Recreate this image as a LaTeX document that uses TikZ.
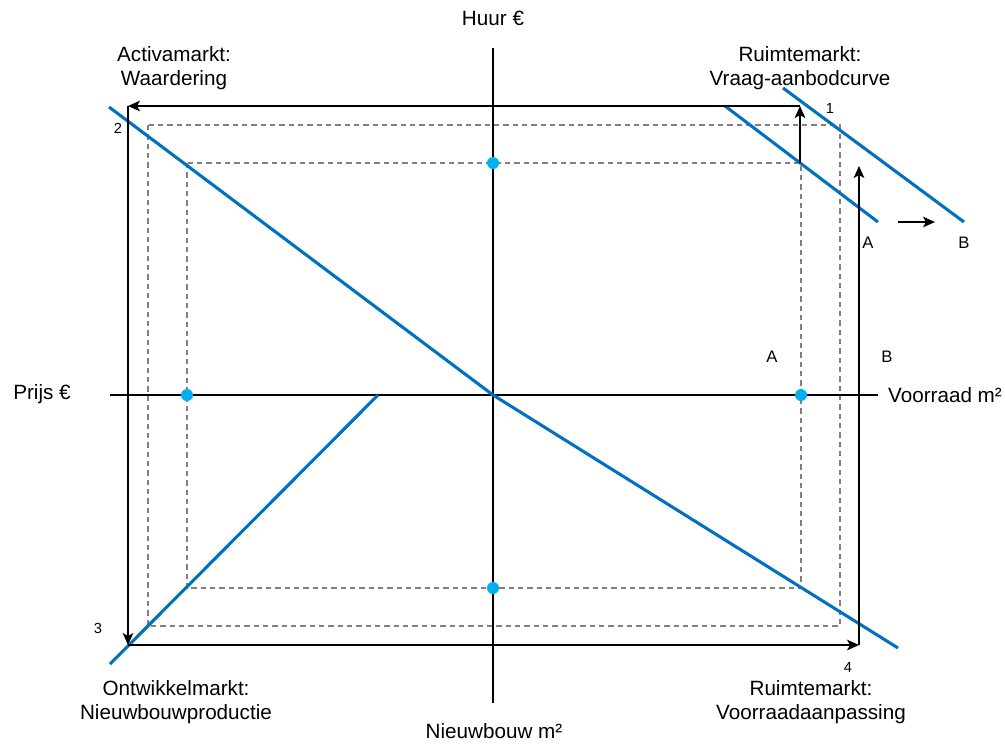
\documentclass[tikz,border=0pt]{standalone}
\usepackage{fontspec}
\setmainfont{Liberation Sans}
\usetikzlibrary{arrows.meta}
\definecolor{curveblue}{RGB}{0,112,192}
\definecolor{dotblue}{RGB}{0,176,240}
\definecolor{dashgray}{RGB}{128,128,128}
\tikzset{
  bluecurve/.style={draw=curveblue, line width=2.3pt},
  guide/.style={draw=dashgray, line width=1pt, dash pattern=on 4pt off 3pt},
  axisline/.style={draw=black, line width=1.1pt},
  flow/.style={-{Stealth[length=9pt,width=8pt,inset=2.2pt]}, line width=1.1pt},
  dot/.style={circle, fill=dotblue, inner sep=0pt, minimum size=9pt},
  lbl/.style={font=\fontsize{15.5}{18}\selectfont, align=center},
  tag/.style={font=\fontsize{12.5}{14}\selectfont},
  num/.style={font=\fontsize{11}{13}\selectfont},
}
\begin{document}
\begin{tikzpicture}[x=0.75pt, y=-0.75pt]
  \useasboundingbox (0,0) rectangle (1005,744);

  % guide rectangles
  \draw[guide] (148,125) rectangle (840,626);
  \draw[guide] (187,163) rectangle (801,588);

  % axes
  \draw[axisline] (110,395) -- (878,395);
  \draw[axisline] (493,48) -- (493,703);
  \node[lbl] (huur) at (493,18) {Huur €};
  \node[lbl] (nieuwbouw) at (494,731) {Nieuwbouw m²};
  \node[lbl] (prijs) at (42,394) {Prijs €};
  \node[lbl] (voorraad) at (945,395) {Voorraad m²};

  % curves
  \draw[bluecurve] (725,106) -- (878,222);
  \draw[bluecurve] (783,88) -- (964,222);
  \draw[bluecurve] (109,107) -- (493,395) -- (898,648);
  \draw[bluecurve] (110,664) -- (378,395);

  % cycle
  \coordinate (c1) at (800,106);
  \coordinate (c2) at (128,106);
  \coordinate (c3) at (128,645);
  \coordinate (c4) at (859,645);
  \coordinate (c4top) at (859,166);
  \coordinate (rentA) at (800,163);
  \coordinate (shiftL) at (898,222);
  \coordinate (shiftR) at (935,222);
  \draw[flow] (c1) -- (c2);
  \draw[flow] (c2) -- (c3);
  \draw[flow] (c3) -- (c4);
  \draw[flow] (c4) -- (c4top);
  \draw[flow] (rentA) -- (c1);
  \draw[flow] (shiftL) -- (shiftR);

  % equilibrium points
  \node[dot] (eqtop) at (493,163) {};
  \node[dot] (eqleft) at (187,395) {};
  \node[dot] (eqright) at (801,395) {};
  \node[dot] (eqbottom) at (493,588) {};

  % quadrant labels
  \node[lbl] (activa) at (174,68) {Activamarkt:\\Waardering};
  \node[lbl] (vraag) at (800,68) {Ruimtemarkt:\\Vraag-aanbodcurve};
  \node[lbl] (ontwikkel) at (176,702) {Ontwikkelmarkt:\\Nieuwbouwproductie};
  \node[lbl] (aanpassing) at (811,702) {Ruimtemarkt:\\Voorraadaanpassing};

  \node[num] (n1) at (830,108) {1};
  \node[num] (n2) at (118,128) {2};
  \node[num] (n3) at (98,628) {3};
  \node[num] (n4) at (848,667) {4};

  \node[tag] (curveA) at (868,243) {A};
  \node[tag] (curveB) at (964,243) {B};
  \node[tag] (stockA) at (772,357) {A};
  \node[tag] (stockB) at (887,357) {B};
\end{tikzpicture}
\end{document}
